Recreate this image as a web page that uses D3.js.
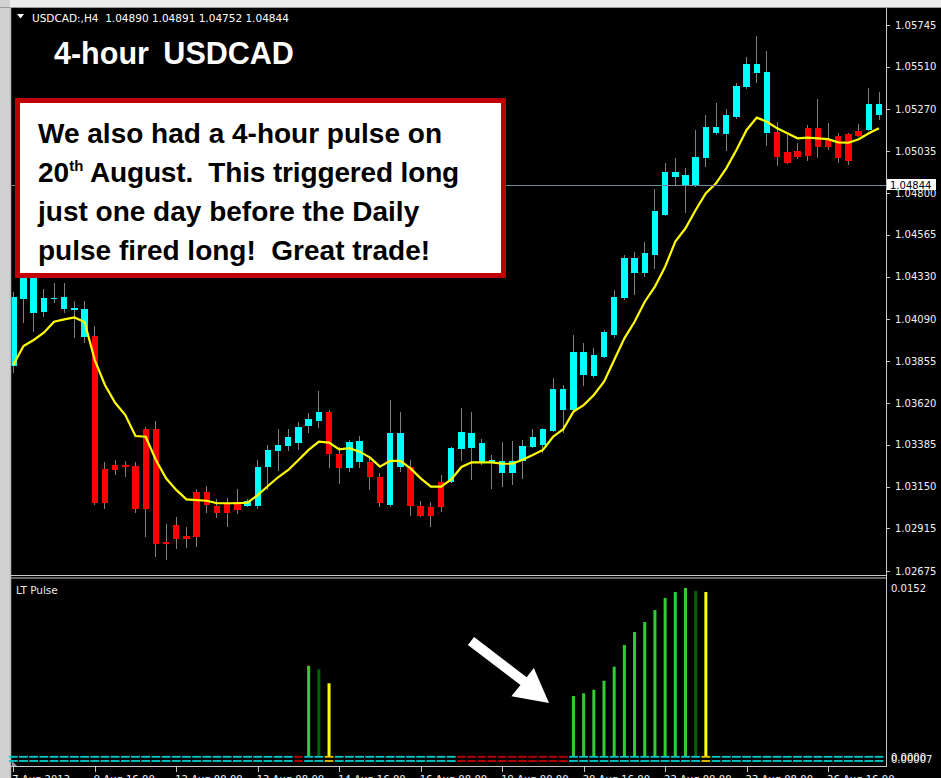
<!DOCTYPE html>
<html><head><meta charset="utf-8">
<script src="https://cdn.jsdelivr.net/npm/d3@7"></script>
<style>html,body{margin:0;padding:0;background:#000;overflow:hidden}</style>
</head><body>
<svg id="c" width="941" height="778" xmlns="http://www.w3.org/2000/svg"></svg>
<script>
// ---------- DATA ----------
const opens = [1.03828,1.04204,1.04127,1.04133,1.04204,1.04146,1.04143,1.03989,1.03996,1.03248,
1.03271,1.03271,1.03265,1.03473,1.03473,1.02839,1.02934,1.02872,1.03121,1.03121,
1.03040,1.03051,1.03065,1.03042,1.03042,1.03258,1.03352,1.03379,1.03397,1.03490,
1.03518,1.03571,1.03333,1.03252,1.03289,1.03289,1.03205,1.03046,1.03258,1.03262,
1.03040,1.03034,1.03177,1.03173,1.03359,1.03368,1.03284,1.03281,1.03228,1.03228,
1.03294,1.03374,1.03383,1.03463,1.03580,1.03580,1.03777,1.03771,1.03880,1.04002,
1.04208,1.04349,1.04349,1.04452,1.04677,1.04892,1.04845,1.04841,1.04995,1.05136,
1.05131,1.05229,1.05395,1.05477,1.05136,1.05145,1.05033,1.05037,1.05164,1.05164,
1.05103,1.05121,1.05131,1.05149,1.05155,1.05239];
const highs = [1.04245,1.04396,1.04368,1.04259,1.04296,1.04296,1.04195,1.04195,1.04053,1.03286,
1.03299,1.03294,1.03286,1.03484,1.03520,1.02939,1.02977,1.02924,1.03135,1.03153,
1.03078,1.03084,1.03134,1.03078,1.03299,1.03383,1.03472,1.03472,1.03514,1.03565,
1.03687,1.03580,1.03372,1.03412,1.03434,1.03314,1.03228,1.03634,1.03571,1.03299,
1.03070,1.03065,1.03215,1.03374,1.03593,1.03571,1.03415,1.03327,1.03398,1.03407,
1.03412,1.03472,1.03479,1.03759,1.03721,1.04002,1.03959,1.03930,1.04030,1.04254,
1.04452,1.04470,1.04527,1.04822,1.04971,1.04995,1.04939,1.05155,1.05239,1.05305,
1.05271,1.05421,1.05563,1.05683,1.05600,1.05201,1.05127,1.05083,1.05183,1.05327,
1.05192,1.05136,1.05136,1.05187,1.05392,1.05370];
const lows = [1.03788,1.04069,1.04020,1.04105,1.04183,1.04124,1.03983,1.03955,1.03046,1.03023,
1.03215,1.03202,1.03003,1.02864,1.02755,1.02737,1.02796,1.02802,1.02811,1.02999,
1.02973,1.02924,1.02995,1.03036,1.03023,1.03131,1.03239,1.03352,1.03356,1.03449,
1.03481,1.03252,1.03164,1.03234,1.03252,1.03131,1.03034,1.03036,1.03234,1.02984,
1.02977,1.02924,1.03008,1.03167,1.03295,1.03189,1.03271,1.03136,1.03149,1.03159,
1.03192,1.03366,1.03337,1.03456,1.03449,1.03569,1.03715,1.03762,1.03873,1.03983,
1.04199,1.04227,1.04326,1.04371,1.04671,1.04845,1.04690,1.04834,1.04945,1.05127,
1.05038,1.05215,1.05385,1.05417,1.05065,1.04952,1.04963,1.04990,1.04982,1.04995,
1.05042,1.04971,1.04958,1.05116,1.05149,1.05211];
const closes = [1.04217,1.04356,1.04334,1.04212,1.04212,1.04217,1.04152,1.04146,1.03056,1.03056,
1.03243,1.03258,1.03023,1.03023,1.02827,1.02827,1.02855,1.02855,1.02864,1.03046,
1.02999,1.02999,1.03017,1.03068,1.03262,1.03356,1.03383,1.03426,1.03486,1.03528,
1.03571,1.03333,1.03252,1.03398,1.03406,1.03202,1.03059,1.03449,1.03449,1.03040,
1.02984,1.02984,1.03033,1.03366,1.03456,1.03449,1.03393,1.03299,1.03295,1.03295,
1.03379,1.03430,1.03472,1.03697,1.03697,1.03908,1.03908,1.03889,1.04017,1.04217,
1.04433,1.04433,1.04461,1.04699,1.04920,1.04920,1.04900,1.05001,1.05173,1.05173,
1.05239,1.05402,1.05524,1.05524,1.05479,1.05004,1.04967,1.05001,1.05008,1.05061,
1.05058,1.04995,1.04982,1.05123,1.05301,1.05301];
const maValues = [1.03833,1.03940,1.03974,1.04015,1.04077,1.04090,1.04101,1.04075,1.03861,1.03721,
1.03621,1.03552,1.03434,1.03430,1.03299,1.03196,1.03131,1.03078,1.03074,1.03070,
1.03056,1.03056,1.03056,1.03059,1.03102,1.03153,1.03202,1.03243,1.03299,1.03356,
1.03402,1.03397,1.03359,1.03366,1.03346,1.03314,1.03262,1.03294,1.03294,1.03252,
1.03196,1.03149,1.03149,1.03190,1.03260,1.03286,1.03286,1.03286,1.03278,1.03278,
1.03301,1.03327,1.03356,1.03430,1.03472,1.03571,1.03608,1.03665,1.03739,1.03861,
1.03983,1.04076,1.04189,1.04274,1.04386,1.04527,1.04602,1.04705,1.04799,1.04855,
1.04939,1.05042,1.05155,1.05224,1.05201,1.05164,1.05136,1.05108,1.05112,1.05108,
1.05103,1.05085,1.05083,1.05103,1.05136,1.05164];
const priceTicks = [1.05745,1.05510,1.05270,1.05035,1.04800,1.04565,1.04330,1.04090,1.03855,1.03620,1.03385,1.03150,1.02915,1.02675];
const currentPrice = 1.04844;
const pulseIndex = [29,30,31,55,56,57,58,59,60,61,62,63,64,65,66,67,68];
const pulseValue = [0.00821,0.00789,0.00663,0.00549,0.00573,0.00605,0.00686,0.00812,0.01007,0.01124,0.01214,0.01322,0.01430,0.01484,0.01520,0.01493,0.01484];
const pulseKind = ['rise','fade','signal','rise','rise','rise','rise','rise','rise','rise','rise','rise','rise','rise','rise','fade','signal'];
const dashStates = ("cccccccccccccccccccccccccccc" + "r" + "cc" + "y" + "cccccccccccc" + "rrrrrrrrrrr" + "ccccccccccccc" + "y" + "ccccccccccccccccc").split("");
const xTickIndex = [0,8,16,24,32,40,48,56,64,72,80];
const xTickLabels = ["7 Aug 2013","9 Aug 16:00","12 Aug 00:00","13 Aug 08:00","14 Aug 16:00","16 Aug 08:00","19 Aug 00:00","20 Aug 16:00","22 Aug 00:00","23 Aug 08:00","26 Aug 16:00"];
const headerText = "USDCAD:,H4  1.04890 1.04891 1.04752 1.04844";
const titleText = "4-hour USDCAD";
const noteLines = ["We also had a 4-hour pulse on", "20", "th", " August.  This triggered long", "just one day before the Daily", "pulse fired long!  Great trade!"];

// ---------- LAYOUT ----------
const W = 941, H = 778;
const plotL = 11, plotR = 886, mainT = 8, mainB = 575, subB = 766;
const svg = d3.select('#c');
const x = d3.scaleLinear().domain([0, 85]).range([13.3, 879]);
const y = d3.scaleLinear().domain([1.02675, 1.05745]).range([571, 25]);
const yp = d3.scaleLinear().domain([0, 0.0152]).range([757, 588]);
const mt4Font = "'DejaVu Sans', sans-serif";

svg.append('rect').attr('width', W).attr('height', H).attr('fill', '#000');
svg.append('rect').attr('x', 0).attr('y', 0).attr('width', W).attr('height', 7).attr('fill', '#ececec');
svg.append('rect').attr('x', 0).attr('y', 0).attr('width', 10).attr('height', H).attr('fill', '#d2d2d2');
svg.append('line').attr('x1', 0).attr('x2', W).attr('y1', 7.5).attr('y2', 7.5).attr('stroke', '#9a9a9a');
svg.append('line').attr('x1', 10.5).attr('x2', 10.5).attr('y1', 7).attr('y2', H).attr('stroke', '#bdbdbd').attr('stroke-width', 1.5);

svg.append('defs').append('clipPath').attr('id', 'mainClip')
  .append('rect').attr('x', 11.5).attr('y', mainT).attr('width', plotR - 11.5).attr('height', mainB - mainT);

const main = svg.append('g').attr('clip-path', 'url(#mainClip)');
const idx = d3.range(opens.length);

main.selectAll('line.wick').data(idx).join('line').attr('class', 'wick')
  .attr('x1', i => x(i)).attr('x2', i => x(i))
  .attr('y1', i => y(highs[i])).attr('y2', i => y(lows[i]))
  .attr('stroke', '#7f7f7f').attr('stroke-width', 1).attr('shape-rendering', 'crispEdges');
main.selectAll('rect.body').data(idx).join('rect').attr('class', 'body')
  .attr('x', i => x(i) - 3.2).attr('width', 6.4)
  .attr('y', i => y(Math.max(opens[i], closes[i])))
  .attr('height', i => Math.max(1.6, Math.abs(y(opens[i]) - y(closes[i]))))
  .attr('fill', i => closes[i] >= opens[i] ? '#00ffff' : '#ff0000')
  .attr('shape-rendering', 'crispEdges');
main.append('path').datum(idx)
  .attr('d', d3.line().x(i => x(i)).y(i => y(maValues[i])))
  .attr('fill', 'none').attr('stroke', '#ffff00').attr('stroke-width', 2.2);

svg.append('line').attr('x1', 11.5).attr('x2', plotR).attr('y1', Math.round(y(currentPrice)) + 0.5).attr('y2', Math.round(y(currentPrice)) + 0.5)
  .attr('stroke', '#778899').attr('stroke-width', 1);

svg.append('line').attr('x1', 11).attr('x2', plotR + 1).attr('y1', 575.5).attr('y2', 575.5).attr('stroke', '#c8c8c8');
svg.append('line').attr('x1', 11).attr('x2', plotR + 1).attr('y1', 578).attr('y2', 578).attr('stroke', '#c8c8c8');
svg.append('line').attr('x1', plotR + 0.5).attr('x2', plotR + 0.5).attr('y1', 8).attr('y2', subB).attr('stroke', '#c8c8c8');
svg.append('line').attr('x1', 11).attr('x2', plotR + 1).attr('y1', subB + 0.5).attr('y2', subB + 0.5).attr('stroke', '#c8c8c8');

const pt = svg.append('g');
pt.selectAll('line').data(priceTicks).join('line')
  .attr('x1', plotR).attr('x2', plotR + 4)
  .attr('y1', d => Math.round(y(d)) + 0.5).attr('y2', d => Math.round(y(d)) + 0.5)
  .attr('stroke', '#c8c8c8');
pt.selectAll('text').data(priceTicks).join('text')
  .attr('x', 895).attr('y', d => y(d) + 3.6)
  .attr('font-family', mt4Font).attr('font-size', 10).attr('fill', '#f0f0f0')
  .text(d => d.toFixed(5));
svg.append('rect').attr('x', 887).attr('y', Math.round(y(currentPrice)) - 6).attr('width', 49).attr('height', 11).attr('fill', '#ffffff');
svg.append('text').attr('x', 890).attr('y', y(currentPrice) + 3.6)
  .attr('font-family', mt4Font).attr('font-size', 10).attr('fill', '#000').text(currentPrice.toFixed(5));

svg.append('path').attr('d', 'M17,14 L24,14 L20.5,18.5 Z').attr('fill', '#ffffff');
svg.append('text').attr('x', 32).attr('y', 22).attr('xml:space', 'preserve')
  .attr('font-family', mt4Font).attr('font-size', 10.5).attr('fill', '#ffffff').text(headerText);
svg.append('text').attr('x', 54).attr('y', 64)
  .attr('font-family', "'Liberation Sans', Arial, sans-serif").attr('font-weight', 'bold')
  .attr('font-size', 30.5).attr('word-spacing', 6).attr('fill', '#ffffff').text(titleText);

svg.append('rect').attr('x', 17.5).attr('y', 100.5).attr('width', 486).attr('height', 175)
  .attr('fill', '#ffffff').attr('stroke', '#c00000').attr('stroke-width', 5);
const noteFont = "'Liberation Sans', Arial, sans-serif";
const nt = (yy) => svg.append('text').attr('x', 38).attr('y', yy).attr('xml:space', 'preserve')
  .attr('font-family', noteFont).attr('font-weight', 'bold').attr('font-size', 28).attr('fill', '#000');
nt(143).text(noteLines[0]);
const l2 = nt(182);
l2.append('tspan').text(noteLines[1]);
l2.append('tspan').attr('font-size', 15).attr('dy', -11).text(noteLines[2]);
l2.append('tspan').attr('font-size', 28).attr('dy', 11).attr('letter-spacing', -0.15).text(noteLines[3]);
nt(221).text(noteLines[4]);
nt(260).text(noteLines[5]);

// ---------- LT PULSE PANEL ----------
svg.append('text').attr('x', 16).attr('y', 594).attr('font-family', mt4Font).attr('font-size', 10.5)
  .attr('fill', '#e8e8e8').text('LT Pulse');
const pulseColor = { rise: '#32cd32', fade: '#006400', signal: '#ffff00' };
svg.append('g').selectAll('rect').data(pulseIndex).join('rect')
  .attr('x', (d) => x(d) - 1.5).attr('width', 3)
  .attr('y', (d, k) => yp(pulseValue[k]))
  .attr('height', (d, k) => yp(0) - yp(pulseValue[k]))
  .attr('fill', (d, k) => pulseColor[pulseKind[k]]);
const dashColor = { c: '#00cccc', r: '#c00000', y: '#e6c800' };
const dg = svg.append('g');
[756.8, 761].forEach(yy => {
  dg.append('g').selectAll('line').data(idx).join('line')
    .attr('x1', i => x(i) - 4.4).attr('x2', i => x(i) + 4.4)
    .attr('y1', yy).attr('y2', yy)
    .attr('stroke', i => dashColor[dashStates[i]]).attr('stroke-width', 1.8);
});
svg.append('path').attr('d', 'M12,761 L12,766 L17,766 Z').attr('fill', '#9a9a9a');
svg.append('text').attr('x', 891).attr('y', 592).attr('font-family', mt4Font).attr('font-size', 10)
  .attr('fill', '#f0f0f0').text(0.0152.toFixed(4));
svg.append('text').attr('x', 891).attr('y', 761).attr('font-family', mt4Font).attr('font-size', 10)
  .attr('fill', '#f0f0f0').text((0).toFixed(4));
svg.append('text').attr('x', 891).attr('y', 763).attr('font-family', mt4Font).attr('font-size', 10)
  .attr('fill', '#f0f0f0').text(0.00007.toFixed(5));

svg.append('path').attr('d', 'M467.9,644.9 L520.5,685.0 L511.4,696.3 L549,703 L533.8,668.1 L526.7,677.2 L474.1,637.1 Z')
  .attr('fill', '#ffffff');

const xt = svg.append('g');
xt.selectAll('line').data(xTickIndex).join('line')
  .attr('x1', i => Math.round(x(i)) + 0.5).attr('x2', i => Math.round(x(i)) + 0.5)
  .attr('y1', subB).attr('y2', subB + 6).attr('stroke', '#c8c8c8');
xt.selectAll('text').data(xTickIndex).join('text')
  .attr('x', i => x(i) - 1).attr('y', 782.5)
  .attr('font-family', mt4Font).attr('font-size', 10).attr('fill', '#f0f0f0')
  .text((d, k) => xTickLabels[k]);
</script>
</body></html>
